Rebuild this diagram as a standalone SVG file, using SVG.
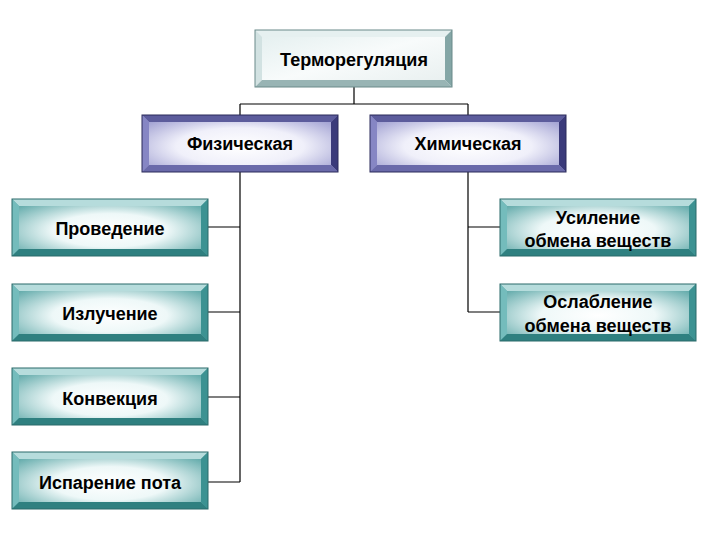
<svg xmlns="http://www.w3.org/2000/svg" xmlns:xlink="http://www.w3.org/1999/xlink" width="720" height="540" viewBox="0 0 720 540">
<style>
.t{font-family:"Liberation Sans",Arial,sans-serif;font-size:18px;font-weight:bold;fill:#000;text-anchor:middle}
.c{fill:none;stroke:#000;stroke-width:1.2}
</style>
<defs>
<radialGradient id="gTeal" cx="50%" cy="55%" r="65%">
<stop offset="0" stop-color="#ffffff"/><stop offset="0.45" stop-color="#eef8f8"/><stop offset="1" stop-color="#5aa6a6"/>
</radialGradient>
<radialGradient id="gBlue" cx="50%" cy="55%" r="65%">
<stop offset="0" stop-color="#ffffff"/><stop offset="0.5" stop-color="#f0f0fa"/><stop offset="1" stop-color="#9c9cd0"/>
</radialGradient>
<linearGradient id="gGray" x1="0" y1="0" x2="1" y2="1">
<stop offset="0" stop-color="#e2eeee"/><stop offset="0.5" stop-color="#f8fbfb"/><stop offset="1" stop-color="#e6eeee"/>
</linearGradient>
<g id="bTeal">
<rect width="196" height="57" fill="url(#gTeal)"/>
<polygon points="0,0 196,0 189,7 7,7" fill="#b6dcdc"/>
<polygon points="0,0 7,7 7,50 0,57" fill="#74bcbc"/>
<polygon points="196,0 196,57 189,50 189,7" fill="#3c9292"/>
<polygon points="0,57 196,57 189,50 7,50" fill="#2f8080"/>
<rect width="196" height="57" fill="none" stroke="#2a6a6a" stroke-width="1"/>
</g>
<g id="bBlue">
<rect width="196" height="57" fill="url(#gBlue)"/>
<polygon points="0,0 196,0 189,7 7,7" fill="#5c5c9c"/>
<polygon points="0,0 7,7 7,50 0,57" fill="#8686c4"/>
<polygon points="196,0 196,57 189,50 189,7" fill="#3a3a7a"/>
<polygon points="0,57 196,57 189,50 7,50" fill="#6a6aaa"/>
<rect width="196" height="57" fill="none" stroke="#2a2a5a" stroke-width="1"/>
</g>
<g id="bGray">
<rect width="197" height="57" fill="url(#gGray)"/>
<polygon points="0,0 197,0 190,7 7,7" fill="#e6f0f0"/>
<polygon points="0,0 7,7 7,50 0,57" fill="#d2e2e2"/>
<polygon points="197,0 197,57 190,50 190,7" fill="#84a6a6"/>
<polygon points="0,57 197,57 190,50 7,50" fill="#98b4b4"/>
<rect width="197" height="57" fill="none" stroke="#6a8a8a" stroke-width="1"/>
</g>
</defs>
<rect width="720" height="540" fill="#fff"/>
<g id="connectors">
<path class="c" d="M354 87V104M240 104H468M240 104V115M468 104V115"/>
<path class="c" d="M240 172V482M208 227H240M208 312H240M208 397H240M208 482H240"/>
<path class="c" d="M468 172V312M468 227H500M468 312H500"/>
</g>
<g id="n-thermo"><use xlink:href="#bGray" x="255" y="30"/><text class="t" x="354" y="66">Терморегуляция</text></g>
<g id="n-phys"><use xlink:href="#bBlue" x="142" y="115"/><text class="t" x="240" y="150">Физическая</text></g>
<g id="n-chem"><use xlink:href="#bBlue" x="370" y="115"/><text class="t" x="468" y="150">Химическая</text></g>
<g id="n-cond"><use xlink:href="#bTeal" x="12" y="199"/><text class="t" x="110" y="235">Проведение</text></g>
<g id="n-rad"><use xlink:href="#bTeal" x="12" y="284"/><text class="t" x="110" y="320">Излучение</text></g>
<g id="n-conv"><use xlink:href="#bTeal" x="12" y="368"/><text class="t" x="110" y="405">Конвекция</text></g>
<g id="n-evap"><use xlink:href="#bTeal" x="12" y="452"/><text class="t" x="110" y="489">Испарение пота</text></g>
<g id="n-inc"><use xlink:href="#bTeal" x="500" y="199"/><text class="t" x="598" y="224">Усиление</text><text class="t" x="598" y="247">обмена веществ</text></g>
<g id="n-dec"><use xlink:href="#bTeal" x="500" y="284"/><text class="t" x="598" y="308">Ослабление</text><text class="t" x="598" y="332">обмена веществ</text></g>
</svg>
